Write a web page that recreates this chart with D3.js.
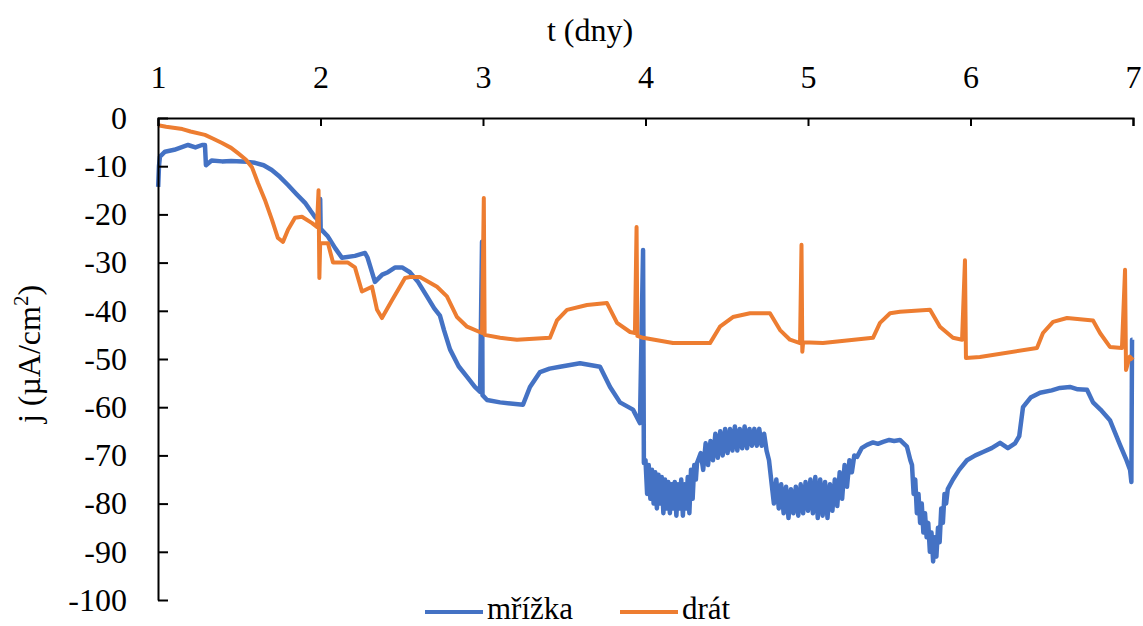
<!DOCTYPE html>
<html>
<head>
<meta charset="utf-8">
<script src="https://cdn.jsdelivr.net/npm/d3@7/dist/d3.min.js"></script>
<style>
  html, body { margin: 0; padding: 0; background: #fff; }
  svg { display: block; }
  svg text { font-family: "Liberation Serif", "DejaVu Serif", serif; fill: #000; }
</style>
</head>
<body>
<svg id="chart" width="1143" height="626"></svg>
<script>
// ---------- data ----------
const xTicks = [1, 2, 3, 4, 5, 6, 7];
const xTickLabels = ["1", "2", "3", "4", "5", "6", "7"];
const yTicks = [0, -10, -20, -30, -40, -50, -60, -70, -80, -90, -100];
const yTickLabels = ["0", "-10", "-20", "-30", "-40", "-50", "-60", "-70", "-80", "-90", "-100"];
const seriesNames = ["mřížka", "drát"];

// mřížka (blue): [t (days), j (µA/cm²)]
const mrizka = [
  [1.001, -14.3], [1.006, -10], [1.012, -8], [1.043, -7], [1.10, -6.6], [1.185, -5.6], [1.23, -6.1], [1.271, -5.6], [1.289, -5.6],
  [1.295, -9.8], [1.33, -8.8], [1.394, -9], [1.45, -8.9], [1.55, -9.1], [1.597, -9.3], [1.65, -9.8], [1.70, -10.8], [1.75, -12.2],
  [1.80, -13.9], [1.85, -15.7], [1.905, -17.6], [1.94, -19.3], [1.966, -20.5],
  [1.995, -21.5], [1.998, -16.8], [2.001, -23], [2.046, -24.6], [2.09, -27], [2.132, -29], [2.212, -28.6], [2.274, -28], [2.29, -29],
  [2.335, -34], [2.38, -32.5], [2.415, -32], [2.46, -31], [2.502, -31], [2.55, -32], [2.60, -34], [2.655, -37], [2.70, -39.5],
  [2.735, -41], [2.76, -44], [2.797, -48], [2.85, -51.5], [2.902, -53.7], [2.95, -55.8], [2.982, -56.8],
  [2.994, -25.7], [2.997, -57.5], [3.025, -58.5], [3.105, -59], [3.246, -59.5], [3.289, -55.8], [3.351, -52.7], [3.41, -52],
  [3.474, -51.6], [3.597, -50.9], [3.720, -51.6], [3.782, -55.8], [3.843, -59], [3.923, -60.5], [3.966, -63.3],
  [3.985, -27.4], [3.99, -71.6],
  [4.00, -71], [4.01, -78], [4.02, -72], [4.03, -79], [4.04, -73], [4.05, -80], [4.06, -73.5], [4.07, -81], [4.08, -74], [4.09, -80],
  [4.10, -74.5], [4.11, -82], [4.12, -75], [4.13, -81], [4.14, -75.5], [4.15, -82], [4.16, -76], [4.17, -81], [4.18, -75.5], [4.19, -82.5],
  [4.20, -76], [4.21, -81], [4.22, -75], [4.23, -82.5], [4.24, -76], [4.25, -81], [4.26, -74.5], [4.27, -82], [4.28, -73], [4.29, -79],
  [4.30, -72], [4.31, -75], [4.317, -71.6],
  [4.34, -69.5], [4.355, -73], [4.37, -67.5], [4.385, -72], [4.40, -67], [4.415, -71], [4.43, -65.5], [4.445, -70.5], [4.46, -65],
  [4.475, -70], [4.49, -64.5], [4.505, -69.5], [4.52, -64.5], [4.535, -69], [4.55, -64], [4.565, -69], [4.58, -64.5], [4.595, -68.5],
  [4.61, -64], [4.625, -68.5], [4.64, -64.5], [4.655, -68], [4.67, -64.5], [4.685, -68], [4.70, -64.5], [4.715, -68], [4.73, -65.5],
  [4.745, -69], [4.76, -71], [4.775, -75.5],
  [4.79, -80], [4.805, -75], [4.82, -81], [4.835, -76], [4.85, -82], [4.865, -76.5], [4.88, -83], [4.895, -77], [4.91, -82], [4.925, -76.5],
  [4.94, -82.5], [4.955, -76], [4.97, -82], [4.985, -75.5], [5.00, -81.5], [5.015, -75], [5.03, -82], [5.045, -74.5], [5.06, -83],
  [5.075, -75], [5.09, -82.5], [5.105, -75.5], [5.12, -83], [5.135, -76], [5.15, -81.5], [5.165, -75], [5.18, -80.5], [5.195, -73.5],
  [5.21, -79], [5.225, -72], [5.24, -76.5], [5.255, -71], [5.27, -73.5], [5.285, -70], [5.302, -70.3],
  [5.33, -68.5], [5.363, -67.8], [5.40, -67.3], [5.43, -67.6], [5.462, -67.2], [5.50, -66.8], [5.53, -67], [5.566, -66.8], [5.609, -68.2], [5.63, -71],
  [5.64, -72], [5.65, -78], [5.66, -75], [5.67, -82], [5.68, -78], [5.69, -84], [5.70, -80], [5.71, -86], [5.72, -82], [5.73, -87],
  [5.74, -84], [5.75, -90], [5.76, -86], [5.77, -92], [5.78, -87], [5.79, -91], [5.80, -85], [5.81, -88], [5.82, -81], [5.83, -84],
  [5.84, -78], [5.85, -80], [5.86, -77],
  [5.892, -75], [5.93, -73], [5.978, -71], [6.03, -70], [6.077, -69.3], [6.13, -68.5], [6.182, -67.4], [6.23, -68.5], [6.274, -67.5],
  [6.30, -66], [6.323, -60], [6.37, -58], [6.428, -57], [6.50, -56.5], [6.55, -56], [6.612, -55.8], [6.66, -56.3], [6.717, -56.4],
  [6.754, -59], [6.80, -60.5], [6.858, -62.7], [6.920, -67.8], [6.960, -71], [6.982, -73], [6.990, -75.5], [6.994, -46], [6.997, -46]
];

// drát (orange): [t (days), j (µA/cm²)]
const drat = [
  [1.001, -1.5], [1.05, -1.8], [1.15, -2.3], [1.20, -2.8], [1.289, -3.5], [1.34, -4.3], [1.394, -5.2], [1.45, -6.2], [1.492, -7.3],
  [1.54, -8.6], [1.578, -10.2], [1.615, -13.5], [1.658, -17], [1.702, -21.2], [1.738, -24.9], [1.769, -25.7], [1.800, -23.2],
  [1.843, -20.7], [1.886, -20.5], [1.948, -21.8], [1.978, -22.6],
  [1.988, -15], [1.993, -33.2], [1.998, -26], [2.015, -26], [2.046, -26], [2.077, -30], [2.169, -30], [2.212, -31], [2.255, -36],
  [2.317, -35], [2.348, -39.8], [2.378, -41.5], [2.440, -37.8], [2.520, -33.2], [2.551, -33], [2.612, -33], [2.717, -35], [2.778, -37],
  [2.840, -41.3], [2.902, -43.3], [2.994, -44.6],
  [3.005, -16.6], [3.010, -45], [3.105, -45.6], [3.209, -46], [3.412, -45.6], [3.455, -42], [3.517, -39.8], [3.640, -38.8],
  [3.763, -38.4], [3.825, -42.5], [3.905, -44.4], [3.935, -44.6],
  [3.945, -22.6], [3.950, -45.2], [3.985, -45.6], [4.169, -46.7], [4.397, -46.7], [4.458, -43.3], [4.538, -41.3], [4.643, -40.5],
  [4.766, -40.5], [4.828, -44], [4.889, -46], [4.951, -46.7],
  [4.960, -26.3], [4.965, -48.5], [4.970, -46.5], [5.092, -46.7], [5.400, -45.6], [5.443, -42.5], [5.505, -40.5], [5.566, -40.2],
  [5.751, -39.8], [5.812, -43.3], [5.892, -45.6], [5.948, -46],
  [5.966, -29.5], [5.972, -49.8], [6.058, -49.6], [6.409, -47.7], [6.446, -44.6], [6.508, -42.3], [6.594, -41.5], [6.754, -42],
  [6.797, -44.6], [6.858, -47.5], [6.932, -47.7],
  [6.951, -31.5], [6.957, -52.3], [6.98, -49.5], [7.0, -50.2]
];

(function () {
  const svg = d3.select("#chart");
  const mLeft = 158, mRight = 1133, mTop = 118, mBottom = 600;
  const FS = 32;

  const x = d3.scaleLinear().domain([1, 7]).range([mLeft, mRight]);
  const y = d3.scaleLinear().domain([0, -100]).range([mTop, mBottom]);
  const line = d3.line().x(d => x(d[0])).y(d => y(d[1]));
  const colors = ["#4472C4", "#ED7D31"];

  svg.append("path").datum(mrizka).attr("d", line)
    .attr("fill", "none").attr("stroke", colors[0]).attr("stroke-width", 4.5)
    .attr("stroke-linejoin", "round");
  svg.append("path").datum(drat).attr("d", line)
    .attr("fill", "none").attr("stroke", colors[1]).attr("stroke-width", 4)
    .attr("stroke-linejoin", "round");

  const xAxis = d3.axisTop(x).tickValues(xTicks).tickFormat((d, i) => xTickLabels[i])
    .tickSizeInner(-8).tickSizeOuter(-8).tickPadding(30);
  const gx = svg.append("g").attr("transform", `translate(0,${mTop})`).call(xAxis);

  const yAxis = d3.axisLeft(y).tickValues(yTicks).tickFormat((d, i) => yTickLabels[i])
    .tickSizeInner(-10).tickSizeOuter(0).tickPadding(31);
  const gy = svg.append("g").attr("transform", `translate(${mLeft},0)`).call(yAxis);

  [gx, gy].forEach(g => {
    g.attr("font-family", null).attr("font-size", null);
    g.selectAll("path, line").attr("stroke", "#000").attr("stroke-width", 2);
    g.selectAll("text").style("font-size", FS + "px").attr("fill", "#000");
  });

  svg.append("text").attr("x", 590).attr("y", 41).attr("text-anchor", "middle")
    .style("font-size", FS + "px").text("t (dny)");

  const yt = svg.append("text").attr("transform", "translate(40,354) rotate(-90)")
    .attr("text-anchor", "middle").style("font-size", FS + "px");
  yt.append("tspan").text("j (µA/cm");
  yt.append("tspan").style("font-size", "21px").attr("dy", -12).text("2");
  yt.append("tspan").attr("dy", 12).text(")");

  const legend = [
    { name: seriesNames[0], color: colors[0], x1: 425, x2: 483, tx: 487 },
    { name: seriesNames[1], color: colors[1], x1: 620, x2: 678, tx: 682 }
  ];
  legend.forEach(l => {
    svg.append("line").attr("x1", l.x1).attr("x2", l.x2).attr("y1", 612).attr("y2", 612)
      .attr("stroke", l.color).attr("stroke-width", 4);
    svg.append("text").attr("x", l.tx).attr("y", 619).style("font-size", "31px").text(l.name);
  });
})();
</script>
</body>
</html>
